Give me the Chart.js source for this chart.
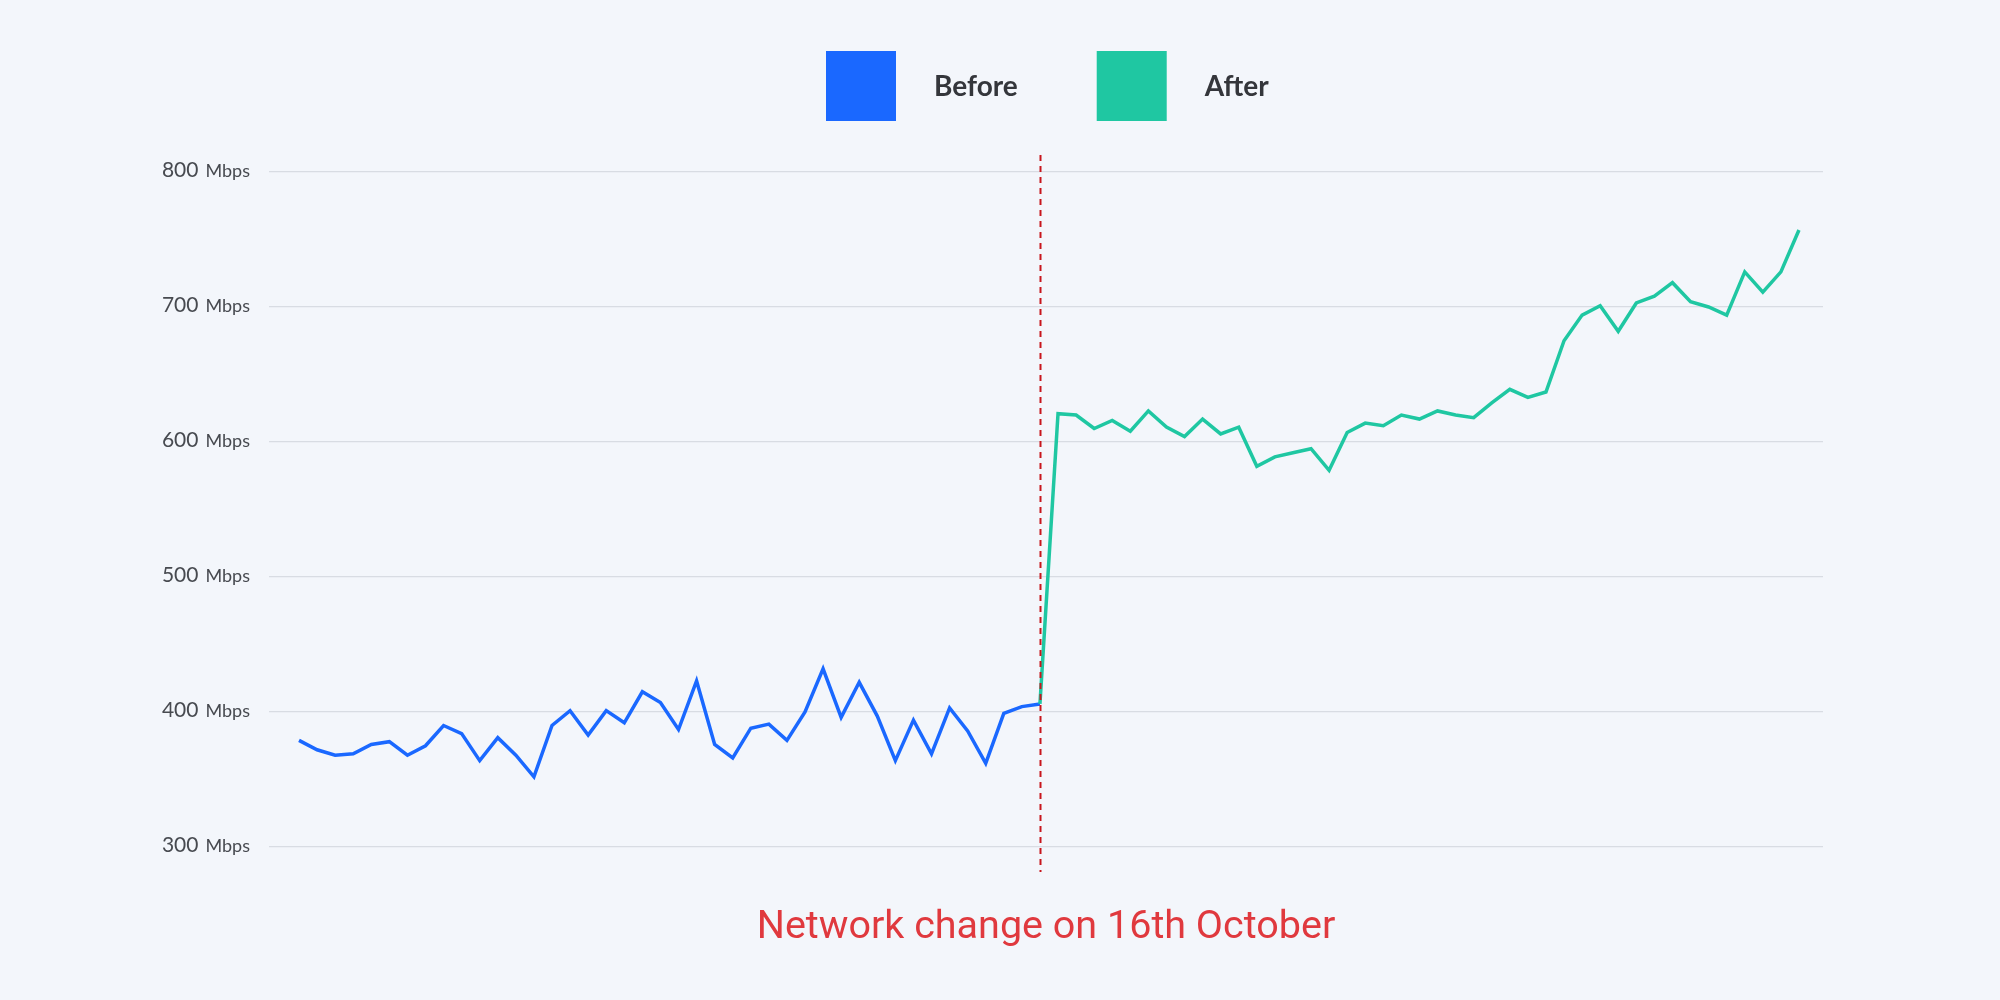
<!DOCTYPE html>
<html>
<head>
<meta charset="utf-8">
<script src="https://cdn.jsdelivr.net/npm/chart.js@4.4.1/dist/chart.umd.min.js"></script>
<style>
  html, body { margin: 0; padding: 0; background: #f3f6fb; }
  canvas { display: block; }
</style>
</head>
<body>
<canvas id="speedChart" width="2000" height="1000"></canvas>
<script>
// series (one point per day, index 0..83)
var seriesNames = ["Before", "After"];
var seriesColors = ["#1a68ff", "#1fc7a2"];
var before = [379, 372, 368, 369, 376, 378, 368, 375, 390, 384, 364, 381, 368, 352, 390, 401, 383, 401,
  392, 415, 407, 387, 423, 376, 366, 388, 391, 379, 400, 432, 396, 422, 397, 364, 394, 369, 403, 386,
  362, 399, 404, 406];
var after = [406, 621, 620, 610, 616, 608, 623, 611, 604, 617, 606, 611, 582, 589, 592, 595, 579, 607,
  614, 612, 620, 617, 623, 620, 618, 629, 639, 633, 637, 675, 694, 701, 682, 703, 708, 718, 704, 700,
  694, 726, 711, 726, 757];
var changeIndex = 41;
var yTicks = [300, 400, 500, 600, 700, 800];
var unit = "Mbps";
var changeNote = "Network change on 16th October";

var bg = '#f3f6fb';

var decor = {
  id: 'decor',
  beforeDraw: function(chart) {
    var c = chart.ctx;
    c.save();
    c.fillStyle = bg;
    c.fillRect(0, 0, chart.width, chart.height);
    c.restore();
  },
  afterDatasetsDraw: function(chart) {
    var c = chart.ctx, xs = chart.scales.x;
    var x = Math.round(xs.getPixelForValue(changeIndex)) + 0.5;
    c.save();
    c.strokeStyle = '#c8161d';
    c.lineWidth = 2;
    c.setLineDash([6, 5]);
    c.beginPath();
    c.moveTo(x, 155);
    c.lineTo(x, 872);
    c.stroke();
    c.restore();
  },
  afterDraw: function(chart) {
    var c = chart.ctx, ys = chart.scales.y, area = chart.chartArea;
    var mid = (area.left + area.right) / 2;
    c.save();
    // y tick labels: big number + small unit
    c.fillStyle = '#474a50';
    c.textBaseline = 'alphabetic';
    yTicks.forEach(function(v) {
      var y = ys.getPixelForValue(v) + 5;
      c.font = '18px Lato';
      c.textAlign = 'right';
      c.fillText(unit, 250, y);
      var uw = c.measureText(unit).width;
      c.font = '21px Lato';
      c.fillText(String(v), 250 - uw - 7, y);
    });

    // legend
    c.font = 'bold 28px Lato';
    c.textAlign = 'left';
    var box = 70, gap = 38, itemGap = 79;
    var x = 826;
    seriesNames.forEach(function(n, i) {
      c.fillStyle = seriesColors[i];
      c.fillRect(x, 51, box, box);
      c.fillStyle = '#34363b';
      c.fillText(n, x + box + gap, 96);
      x += box + gap + c.measureText(n).width + itemGap;
    });

    // note under the chart
    c.font = '39.5px Roboto';
    c.fillStyle = '#e0393e';
    c.textAlign = 'center';
    c.fillText(changeNote, mid, 938);
    c.restore();
  }
};

new Chart(document.getElementById('speedChart').getContext('2d'), {
  type: 'line',
  data: {
    datasets: [{
      label: seriesNames[0],
      data: before.map(function(v, i) { return { x: i, y: v }; }),
      borderColor: seriesColors[0],
      borderWidth: 3.5,
      pointRadius: 0,
      tension: 0,
      order: 1
    }, {
      label: seriesNames[1],
      data: after.map(function(v, i) { return { x: changeIndex + i, y: v }; }),
      borderColor: seriesColors[1],
      borderWidth: 3.5,
      pointRadius: 0,
      tension: 0,
      order: 0
    }]
  },
  options: {
    responsive: false,
    animation: false,
    layout: { padding: { left: 269, right: 177, top: 172, bottom: 153 } },
    plugins: { legend: { display: false }, tooltip: { enabled: false } },
    scales: {
      x: { type: 'linear', min: -1.66, max: 84.33, display: false },
      y: {
        min: 300, max: 800,
        afterBuildTicks: function(s) { s.ticks = yTicks.map(function(v) { return { value: v }; }); },
        ticks: { display: false },
        grid: { color: '#d8dce3', lineWidth: 1.2, drawTicks: false },
        border: { display: false }
      }
    }
  },
  plugins: [decor]
});
</script>
</body>
</html>
